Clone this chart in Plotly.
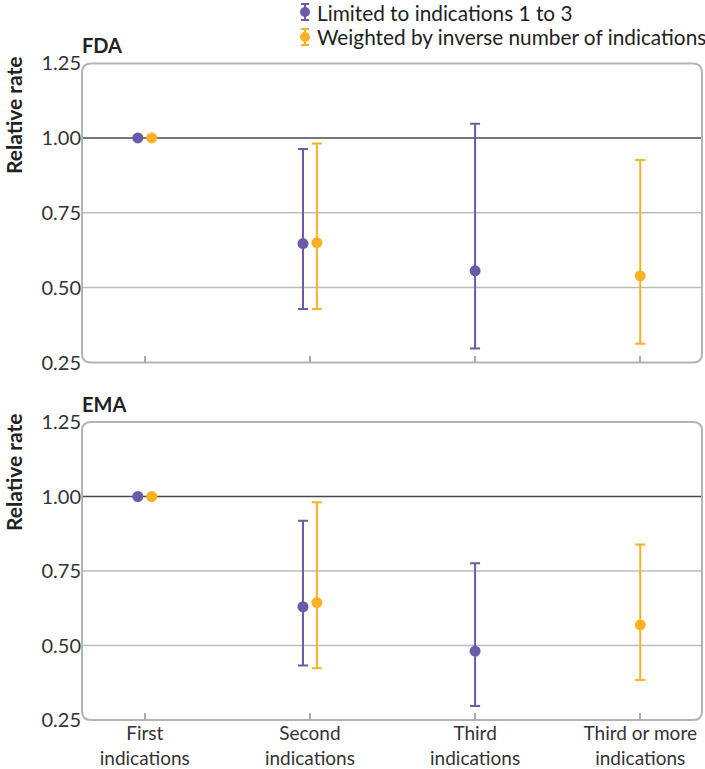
import plotly.graph_objects as go
from plotly.subplots import make_subplots

categories = ["First<br>indications", "Second<br>indications",
              "Third<br>indications", "Third or more<br>indications"]
y_ticks = [0.25, 0.50, 0.75, 1.00, 1.25]

fda_limited = [1.00, 0.647, 0.556, None]
fda_limited_lo = [1.00, 0.429, 0.297, None]
fda_limited_hi = [1.00, 0.963, 1.047, None]
fda_weighted = [1.00, 0.650, None, 0.539]
fda_weighted_lo = [1.00, 0.429, None, 0.313]
fda_weighted_hi = [1.00, 0.981, None, 0.926]

ema_limited = [1.00, 0.630, 0.481, None]
ema_limited_lo = [1.00, 0.433, 0.297, None]
ema_limited_hi = [1.00, 0.919, 0.776, None]
ema_weighted = [1.00, 0.644, None, 0.569]
ema_weighted_lo = [1.00, 0.424, None, 0.384]
ema_weighted_hi = [1.00, 0.981, None, 0.839]

series_names = ["Limited to indications 1 to 3",
                "Weighted by inverse number of indications"]

PURPLE = "#6b5aa8"
ORANGE = "#fdb022"
FONT = "Lato"
W, H = 705, 769
ML, MR, MT, MB = 82, 2, 63, 49
PW, PH = W - ML - MR, H - MT - MB


def px_x(p):
    return (p - ML) / PW


def px_y(p):
    return (H - MB - p) / PH


top_dom = [px_y(362.5), 1.0]
bot_dom = [0.0, px_y(422)]

fig = make_subplots(rows=2, cols=1)
OFF = 0.042


def positions(a, b, sign):
    out = []
    for i in range(len(categories)):
        both = a[i] is not None and b[i] is not None
        out.append(i + sign * OFF if both else i)
    return out


panels = [
    (1, fda_limited, fda_limited_lo, fda_limited_hi,
     fda_weighted, fda_weighted_lo, fda_weighted_hi),
    (2, ema_limited, ema_limited_lo, ema_limited_hi,
     ema_weighted, ema_weighted_lo, ema_weighted_hi),
]

for row, lv, llo, lhi, wv, wlo, whi in panels:
    for vals, lo, hi, color, sign, name in [
        (lv, llo, lhi, PURPLE, -1, series_names[0]),
        (wv, wlo, whi, ORANGE, 1, series_names[1]),
    ]:
        xs = positions(lv, wv, sign)
        up = [None if v is None else h - v for v, h in zip(vals, hi)]
        dn = [None if v is None else v - l for v, l in zip(vals, lo)]
        fig.add_trace(go.Scatter(
            x=xs, y=vals, mode="markers", name=name, showlegend=False,
            marker=dict(color=color, size=11),
            error_y=dict(type="data", symmetric=False, array=up,
                         arrayminus=dn, color=color, thickness=2, width=5),
        ), row=row, col=1)

ytick_font = dict(family=FONT, size=20, color="#333333")
xtick_font = dict(family=FONT, size=19, color="#333333")
for row, dom in [(1, top_dom), (2, bot_dom)]:
    fig.update_yaxes(range=[0.25, 1.25], tickvals=y_ticks,
                     ticktext=[f"{v:.2f}" for v in y_ticks],
                     showgrid=False, zeroline=False, showline=False,
                     tickfont=ytick_font, domain=dom, automargin=False,
                     row=row, col=1)
    fig.update_xaxes(range=[-0.38, 3.38], tickvals=list(range(len(categories))),
                     ticktext=categories, showgrid=False, zeroline=False,
                     showline=False, ticks="inside", ticklen=7, tickwidth=1.5,
                     tickcolor="#aaaaaa", tickfont=xtick_font, automargin=False,
                     showticklabels=(row == 2), row=row, col=1)

shapes = []
# gridlines and reference line
for yref, xref in [("y", "x"), ("y2", "x2")]:
    for g in [0.5, 0.75]:
        shapes.append(dict(type="line", xref=f"{xref} domain", yref=yref,
                           x0=0, x1=1, y0=g, y1=g, layer="below",
                           line=dict(color="#bdbdbd", width=1.5)))
    shapes.append(dict(type="line", xref=f"{xref} domain", yref=yref,
                       x0=0, x1=1, y0=1.0, y1=1.0, layer="below",
                       line=dict(color="#4a4a4a", width=1.5)))

# rounded boxes
r = 9
for T, B in [(63.5, 362.5), (422, 720)]:
    L, R = ML, W - MR - 1
    pts = (f"M {px_x(L + r)},{px_y(T)} L {px_x(R - r)},{px_y(T)} "
           f"Q {px_x(R)},{px_y(T)} {px_x(R)},{px_y(T + r)} "
           f"L {px_x(R)},{px_y(B - r)} Q {px_x(R)},{px_y(B)} {px_x(R - r)},{px_y(B)} "
           f"L {px_x(L + r)},{px_y(B)} Q {px_x(L)},{px_y(B)} {px_x(L)},{px_y(B - r)} "
           f"L {px_x(L)},{px_y(T + r)} Q {px_x(L)},{px_y(T)} {px_x(L + r)},{px_y(T)}")
    shapes.append(dict(type="path", xref="paper", yref="paper", path=pts,
                       layer="below", line=dict(color="#b3b3b3", width=2)))

# legend glyphs
annotations = []
for cy, color, name in [(12, PURPLE, series_names[0]), (37, ORANGE, series_names[1])]:
    cx = 305
    shapes.append(dict(type="line", xref="paper", yref="paper",
                       x0=px_x(cx), x1=px_x(cx), y0=px_y(cy - 8), y1=px_y(cy + 8),
                       line=dict(color=color, width=2)))
    for yy in (cy - 8, cy + 8):
        shapes.append(dict(type="line", xref="paper", yref="paper",
                           x0=px_x(cx - 4), x1=px_x(cx + 4), y0=px_y(yy), y1=px_y(yy),
                           line=dict(color=color, width=2)))
    shapes.append(dict(type="circle", xref="paper", yref="paper",
                       x0=px_x(cx - 5), x1=px_x(cx + 5), y0=px_y(cy - 5), y1=px_y(cy + 5),
                       fillcolor=color, line=dict(color=color, width=0)))
    annotations.append(dict(text=name, xref="paper", yref="paper",
                            x=px_x(315), y=px_y(cy), xanchor="left", yanchor="middle",
                            showarrow=False,
                            font=dict(family=FONT, size=20.8, color="#222222")))

# panel titles
for label, py in [("FDA", 45), ("EMA", 404)]:
    annotations.append(dict(text=f"<b>{label}</b>", xref="paper", yref="paper",
                            x=px_x(80), y=px_y(py), xanchor="left", yanchor="middle",
                            showarrow=False,
                            font=dict(family=FONT, size=20, color="#222222")))

# y-axis titles
for T in [116, 473]:
    annotations.append(dict(text="<b>Relative rate</b>", xref="paper", yref="paper",
                            x=px_x(13), y=px_y(T), xanchor="center", yanchor="middle",
                            textangle=-90, showarrow=False,
                            font=dict(family=FONT, size=21, color="#222222")))

fig.update_layout(
    width=W, height=H, margin=dict(l=ML, r=MR, t=MT, b=MB),
    plot_bgcolor="white", paper_bgcolor="white",
    showlegend=False, shapes=shapes, annotations=annotations,
    font=dict(family=FONT, color="#333333"),
)

fig.write_html("out.html",
               config={"displayModeBar": False, "staticPlot": True},
               post_script="document.body.style.margin='0';"
                           "document.body.style.overflow='hidden';")
